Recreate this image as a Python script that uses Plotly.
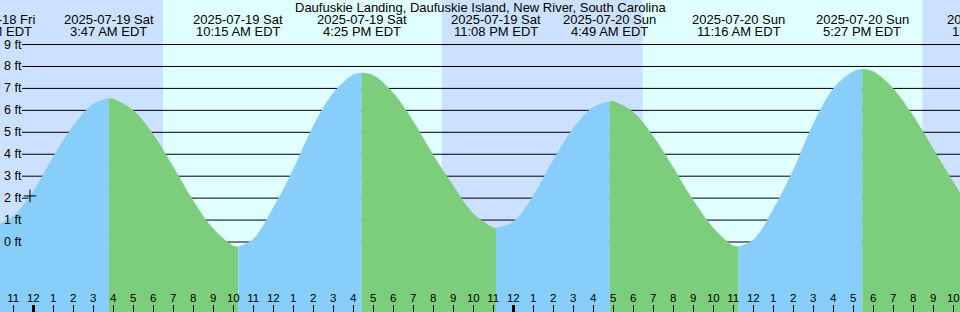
import plotly.graph_objects as go

# ---------------- data (hours counted from midnight starting Sat 2025-07-19, EDT) ----------------
title = "Daufuskie Landing, Daufuskie Island, New River, South Carolina"

event_hours = [-2.0167, 3.7833, 10.25, 16.4167, 23.1333, 28.8167, 35.2667, 41.45, 48.0667]
event_heights = [0.70, 6.55, -0.20, 7.73, 0.65, 6.42, -0.20, 7.88, 0.60]
event_dates = ["2025-07-18 Fri", "2025-07-19 Sat", "2025-07-19 Sat", "2025-07-19 Sat",
               "2025-07-19 Sat", "2025-07-20 Sun", "2025-07-20 Sun", "2025-07-20 Sun",
               "2025-07-21 Mon"]
event_times = ["9:59 PM EDT", "3:47 AM EDT", "10:15 AM EDT", "4:25 PM EDT", "11:08 PM EDT",
               "4:49 AM EDT", "11:16 AM EDT", "5:27 PM EDT", "12:04 AM EDT"]

curve_hours = list(range(-1, 48))
curve_heights = [1.2, 2.33, 3.9, 5.3, 6.3, 6.53, 6.0, 4.9, 3.43, 1.88,
                 0.6, -0.17, 0.15, 1.58, 3.33, 5.3, 6.8, 7.63, 7.6, 6.8,
                 5.5, 3.96, 2.56, 1.3, 0.66, 0.93, 2.12, 3.75, 5.2, 6.15,
                 6.41, 5.93, 4.82, 3.4, 1.9, 0.65, -0.17, 0.1, 1.5, 3.3,
                 5.4, 7.0, 7.78, 7.77, 7.0, 5.75, 4.25, 2.75, 1.4]

sunrise_hours = [6.485, 30.47]
sunset_hours = [20.42, 44.45]

now_hour = [-0.167]
now_height = [2.1]

tick_hours = list(range(-1, 47))
tick_labels = [str((h % 24) % 12 or 12) for h in tick_hours]
midnight_hours = [0, 24]

ft_levels = list(range(0, 10))
ft_labels = [f"{v} ft" for v in ft_levels]

# ---------------- style ----------------
X_RANGE = [-1.665, 46.335]
Y_RANGE = [-3.19, 11.03]
NIGHT = "#CCE0FF"
DAY = "#E0FFFF"
RISE = "#87CEFA"
FALL = "#7CCD7C"
FONT = "Liberation Sans, Arial, sans-serif"
BASE = Y_RANGE[0] - 1

fig = go.Figure()

# merge readings and extremes, then split into rising / falling segments
pts = sorted(set(zip(curve_hours, curve_heights)) | set(zip(event_hours, event_heights)))
for i in range(len(event_hours) - 1):
    a, b = event_hours[i], event_hours[i + 1]
    seg = [(h, v) for h, v in pts if a <= h <= b]
    xs = [p[0] for p in seg]
    ys = [p[1] for p in seg]
    rising = event_heights[i + 1] > event_heights[i]
    col = RISE if rising else FALL
    fig.add_trace(go.Scatter(x=[a, b], y=[BASE, BASE], mode="lines",
                             line=dict(width=0), hoverinfo="skip", showlegend=False))
    fig.add_trace(go.Scatter(x=xs, y=ys, mode="lines", line=dict(width=0, shape="spline", color=col),
                             fill="tonexty", fillcolor=col, hoverinfo="skip", showlegend=False))

fig.add_trace(go.Scatter(x=now_hour, y=now_height, mode="markers",
                         marker=dict(symbol="cross-thin", size=9, line=dict(width=1, color="black")),
                         hoverinfo="skip", showlegend=False))

# invisible trace to create the overlay axis carrying the midnight ticks
fig.add_trace(go.Scatter(x=midnight_hours, y=[BASE] * len(midnight_hours), mode="markers",
                         marker=dict(opacity=0), xaxis="x2", hoverinfo="skip", showlegend=False))

shapes = []
for r, s in zip(sunrise_hours, sunset_hours):
    shapes.append(dict(type="rect", xref="x", yref="paper", x0=r, x1=s, y0=0, y1=1,
                       fillcolor=DAY, line=dict(width=0), layer="below"))
for v in ft_levels:
    shapes.append(dict(type="line", xref="paper", yref="y", x0=22 / 960, x1=1, y0=v, y1=v,
                       line=dict(color="black", width=1), layer="below"))

annotations = []
annotations.append(dict(text=title, xref="paper", yref="paper", x=0.5, y=1, yshift=-7.5,
                        xanchor="center", yanchor="middle", showarrow=False,
                        font=dict(family=FONT, size=13, color="black")))
span = X_RANGE[1] - X_RANGE[0]
for h, d, t in zip(event_hours, event_dates, event_times):
    px = (h - X_RANGE[0]) / span
    annotations.append(dict(text=d, xref="paper", yref="paper", x=px, y=1, yshift=-19.7,
                            xanchor="center", yanchor="middle", showarrow=False,
                            font=dict(family=FONT, size=13, color="black")))
    annotations.append(dict(text=t, xref="paper", yref="paper", x=px, y=1, yshift=-31.3,
                            xanchor="center", yanchor="middle", showarrow=False,
                            font=dict(family=FONT, size=13, color="black")))
for v, lab in zip(ft_levels, ft_labels):
    annotations.append(dict(text=lab, xref="paper", yref="y", x=0, y=v, xshift=1.5,
                            xanchor="left", yanchor="middle", showarrow=False,
                            font=dict(family=FONT, size=12.5, color="black")))

fig.update_layout(
    width=960, height=312,
    margin=dict(l=0, r=0, t=0, b=0, pad=0),
    plot_bgcolor=NIGHT, paper_bgcolor=NIGHT,
    showlegend=False,
    shapes=shapes,
    annotations=annotations,
    xaxis=dict(range=X_RANGE, showgrid=False, zeroline=False, showline=False,
               ticks="inside", ticklen=7, tickwidth=1, tickcolor="black",
               tickvals=tick_hours, ticktext=tick_labels,
               ticklabelposition="inside", ticklabeloverflow="allow",
               tickfont=dict(family=FONT, size=11.5, color="black"), fixedrange=True),
    xaxis2=dict(range=X_RANGE, overlaying="x", anchor="y", side="bottom",
                showgrid=False, zeroline=False, showline=False,
                ticks="inside", ticklen=7, tickwidth=3, tickcolor="black",
                tickvals=midnight_hours, showticklabels=False, fixedrange=True),
    yaxis=dict(range=Y_RANGE, visible=False, fixedrange=True),
)

fig.write_html("out.html", config={"displayModeBar": False})
